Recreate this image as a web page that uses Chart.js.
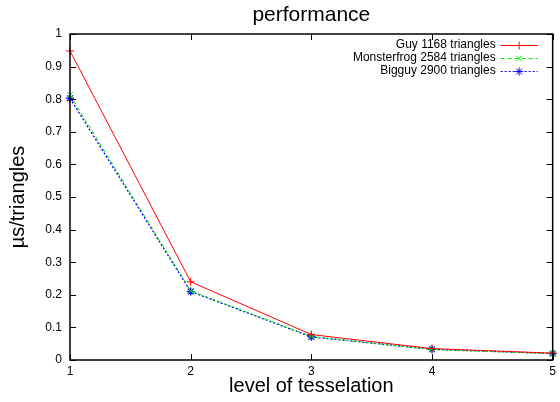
<!DOCTYPE html>
<html><head><meta charset="utf-8">
<script src="https://cdn.jsdelivr.net/npm/chart.js@4/dist/chart.umd.min.js"></script>
<style>html,body{margin:0;padding:0;background:#fff}#wrap{width:560px;height:402px}</style>
</head><body><div id="wrap"><canvas id="c" width="560" height="402"></canvas></div>
<script>
const levels = [1, 2, 3, 4, 5];
const guy = [0.948, 0.240, 0.078, 0.035, 0.021];
const monsterfrog = [0.813, 0.212, 0.072, 0.032, 0.019];
const bigguy = [0.803, 0.210, 0.071, 0.033, 0.020];
const seriesLabels = ['Guy 1168 triangles', 'Monsterfrog 2584 triangles', 'Bigguy 2900 triangles'];
const xTicks = [1, 2, 3, 4, 5];
const yTicks = [0, 0.1, 0.2, 0.3, 0.4, 0.5, 0.6, 0.7, 0.8, 0.9, 1];
const yTickLabels = ['0', '0.1', '0.2', '0.3', '0.4', '0.5', '0.6', '0.7', '0.8', '0.9', '1'];
const chartTitle = 'performance';

const FONT = 'Liberation Sans, Arial, Helvetica, sans-serif';
const pts = arr => levels.map((x, i) => ({x, y: arr[i]}));

const frameTicks = {
  id: 'frameTicks',
  afterDatasetsDraw(chart) {
    const {ctx, chartArea: a, scales: {x, y}} = chart;
    ctx.save();
    ctx.strokeStyle = '#000';
    ctx.lineWidth = 1;
    const L = 6;
    ctx.beginPath();
    xTicks.forEach(v => {
      const px = Math.round(x.getPixelForValue(v)) + 0.5;
      ctx.moveTo(px, a.bottom); ctx.lineTo(px, a.bottom - L);
      ctx.moveTo(px, a.top); ctx.lineTo(px, a.top + L);
    });
    yTicks.forEach(v => {
      const py = Math.round(y.getPixelForValue(v)) + 0.5;
      ctx.moveTo(a.left, py); ctx.lineTo(a.left + L, py);
      ctx.moveTo(a.right, py); ctx.lineTo(a.right - L, py);
    });
    ctx.stroke();
    ctx.lineWidth = 1.5;
    ctx.strokeRect(a.left, a.top, a.right - a.left, a.bottom - a.top);
    // title centred over the plot area
    ctx.fillStyle = '#000';
    ctx.font = '21px ' + FONT;
    ctx.textAlign = 'center';
    ctx.textBaseline = 'middle';
    ctx.fillText(chartTitle, (a.left + a.right) / 2, 15);
    // legend
    ctx.font = '12px ' + FONT;
    ctx.textAlign = 'right';
    ctx.textBaseline = 'middle';
    const textRight = a.right - 57;
    const s0 = a.right - 52, s1 = a.right - 15;
    chart.data.datasets.forEach((ds, i) => {
      const yy = a.top + 11 + i * 13;
      ctx.fillStyle = '#000';
      ctx.fillText(ds.label, textRight, yy);
      ctx.strokeStyle = ds.borderColor;
      ctx.lineWidth = 1;
      ctx.setLineDash(ds.borderDash || []);
      ctx.beginPath(); ctx.moveTo(s0, yy + 0.5); ctx.lineTo(s1, yy + 0.5); ctx.stroke();
      ctx.setLineDash([]);
      Chart.helpers.drawPoint(ctx, {pointStyle: ds.pointStyle, radius: ds.pointRadius, borderWidth: 1, rotation: 0}, (s0 + s1) / 2, yy + 0.5);
    });
    ctx.restore();
  }
};

new Chart(document.getElementById('c'), {
  type: 'line',
  data: {
    datasets: [
      {label: seriesLabels[0], data: pts(guy), borderColor: '#ff0000', backgroundColor: '#ff0000', borderWidth: 1, pointStyle: 'cross', pointRadius: 4, pointBorderWidth: 1, tension: 0, clip: false},
      {label: seriesLabels[1], data: pts(monsterfrog), borderColor: '#00ee00', backgroundColor: '#00ee00', borderWidth: 1, borderDash: [4, 3], pointStyle: 'crossRot', pointRadius: 4, pointBorderWidth: 1, tension: 0, clip: false},
      {label: seriesLabels[2], data: pts(bigguy), borderColor: '#0000ff', backgroundColor: '#0000ff', borderWidth: 1.3, borderDash: [2, 2], pointStyle: 'star', pointRadius: 4, pointBorderWidth: 1.3, tension: 0, clip: false}
    ]
  },
  options: {
    responsive: false,
    animation: false,
    devicePixelRatio: 1,
    layout: {padding: {left: 0, right: 4, top: 34, bottom: 0}},
    plugins: {
      legend: {display: false},
      tooltip: {enabled: false},
      title: {display: false}
    },
    scales: {
      x: {
        type: 'linear', min: 1, max: 5,
        afterFit(s) { s.height = 42; },
        afterBuildTicks(s) { s.ticks = xTicks.map(v => ({value: v})); },
        grid: {display: false, drawTicks: false},
        border: {display: false},
        ticks: {color: '#000', padding: 4, font: {family: FONT, size: 12}, maxRotation: 0, callback: v => String(v)},
        title: {display: true, text: 'level of tesselation', color: '#000', font: {family: FONT, size: 20}, padding: {top: 0, bottom: 4}}
      },
      y: {
        type: 'linear', min: 0, max: 1,
        afterFit(s) { s.width = 70; },
        afterBuildTicks(s) { s.ticks = yTicks.map(v => ({value: v})); },
        grid: {display: false, drawTicks: false},
        border: {display: false},
        ticks: {color: '#000', padding: 8, font: {family: FONT, size: 12}, callback: (v, i) => yTickLabels[i]},
        title: {display: true, text: 'µs/triangles', color: '#000', font: {family: FONT, size: 20}, padding: {top: 6, bottom: 0}}
      }
    }
  },
  plugins: [frameTicks]
});
</script></body></html>
